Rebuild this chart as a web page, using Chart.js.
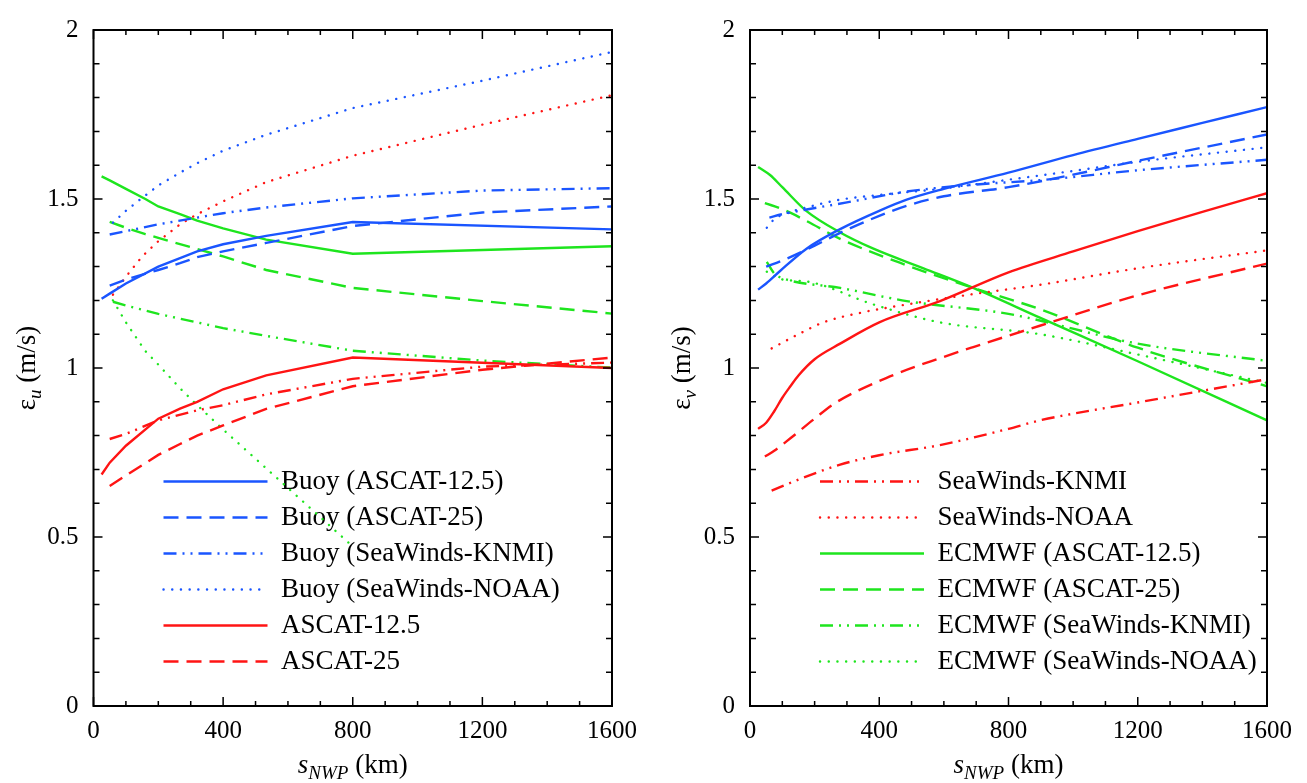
<!DOCTYPE html>
<html>
<head>
<meta charset="utf-8">
<title>NWP error vs. scale</title>
<script src="https://cdn.jsdelivr.net/npm/chart.js@4.4.1/dist/chart.umd.min.js"></script>
<style>
  body { margin: 0; background: #fff; }
  #wrap { position: relative; width: 1307px; height: 783px; }
  canvas { position: absolute; top: 0; }
  #cu { left: 0; }
  #cv { left: 655px; }
</style>
</head>
<body>
<div id="wrap">
  <canvas id="cu" width="655" height="783"></canvas>
  <canvas id="cv" width="652" height="783"></canvas>
</div>
<script>
// axis ticks
const xTicks = [0, 400, 800, 1200, 1600];
const yTicks = [0, 0.5, 1, 1.5, 2];
const xMinorStep = 100;
const yMinorStep = 0.1;

const seriesNames = [
  'Buoy (ASCAT-12.5)', 'Buoy (ASCAT-25)', 'Buoy (SeaWinds-KNMI)', 'Buoy (SeaWinds-NOAA)',
  'ASCAT-12.5', 'ASCAT-25', 'SeaWinds-KNMI', 'SeaWinds-NOAA',
  'ECMWF (ASCAT-12.5)', 'ECMWF (ASCAT-25)', 'ECMWF (SeaWinds-KNMI)', 'ECMWF (SeaWinds-NOAA)'
];

// eps_u, [s_NWP km, m/s]
const uBuoyA125 = [[25,1.205],[50,1.22],[100,1.25],[200,1.30],[267,1.325],[320,1.345],[400,1.366],[533,1.391],[800,1.432],[1600,1.41]];
const uBuoyA25  = [[50,1.244],[100,1.262],[200,1.29],[267,1.31],[320,1.328],[400,1.345],[533,1.37],[800,1.42],[1200,1.46],[1600,1.478]];
const uBuoySWK  = [[50,1.395],[100,1.405],[200,1.425],[320,1.445],[400,1.458],[533,1.475],[800,1.502],[1200,1.525],[1600,1.532]];
const uBuoySWN  = [[60,1.43],[100,1.465],[143,1.498],[200,1.54],[267,1.578],[320,1.606],[400,1.643],[533,1.69],[800,1.769],[1200,1.85],[1600,1.935]];
const uA125     = [[25,0.685],[50,0.72],[100,0.77],[200,0.85],[267,0.88],[320,0.90],[400,0.937],[533,0.978],[800,1.031],[1600,1.0]];
const uA25      = [[50,0.651],[100,0.682],[200,0.743],[267,0.775],[320,0.80],[400,0.83],[533,0.879],[800,0.946],[1200,0.995],[1600,1.031]];
const uSWK      = [[50,0.79],[100,0.805],[200,0.845],[320,0.875],[400,0.89],[533,0.922],[800,0.968],[1200,1.004],[1600,1.016]];
const uSWN      = [[60,1.217],[100,1.27],[150,1.33],[200,1.375],[267,1.425],[320,1.455],[400,1.493],[533,1.55],[800,1.628],[1200,1.72],[1600,1.807]];
const uEcA125   = [[25,1.567],[50,1.555],[100,1.53],[160,1.50],[200,1.478],[267,1.455],[320,1.436],[400,1.413],[533,1.38],[800,1.338],[1600,1.36]];
const uEcA25    = [[50,1.432],[100,1.415],[160,1.396],[200,1.385],[320,1.352],[400,1.33],[533,1.29],[800,1.237],[1200,1.198],[1600,1.161]];
const uEcSWK    = [[60,1.196],[100,1.185],[200,1.16],[320,1.135],[400,1.118],[533,1.095],[800,1.051],[1200,1.022],[1600,1.001]];
const uEcSWN    = [[60,1.20],[100,1.135],[160,1.05],[200,1.01],[267,0.94],[320,0.89],[400,0.818],[533,0.703],[800,0.472]];

// eps_v, [s_NWP km, m/s]
const vBuoyA125 = [[25,1.232],[50,1.25],[93,1.287],[175,1.353],[279,1.411],[400,1.465],[485,1.498],[600,1.53],[800,1.578],[1000,1.63],[1200,1.678],[1400,1.725],[1600,1.772]];
const vBuoyA25  = [[50,1.30],[100,1.318],[200,1.362],[279,1.40],[400,1.45],[485,1.48],[600,1.508],[800,1.535],[1000,1.572],[1200,1.613],[1400,1.652],[1600,1.691]];
const vBuoySWK  = [[60,1.445],[100,1.455],[175,1.469],[300,1.49],[485,1.522],[700,1.543],[900,1.556],[1200,1.585],[1600,1.616]];
const vBuoySWN  = [[52,1.415],[75,1.44],[102,1.454],[175,1.475],[279,1.498],[400,1.512],[588,1.53],[800,1.557],[1000,1.583],[1200,1.61],[1600,1.653]];
const vA125     = [[25,0.82],[50,0.838],[75,0.872],[100,0.912],[125,0.946],[150,0.978],[200,1.026],[279,1.072],[400,1.135],[588,1.198],[800,1.283],[1000,1.345],[1200,1.405],[1400,1.462],[1600,1.517]];
const vA25      = [[46,0.738],[75,0.755],[125,0.792],[200,0.85],[258,0.893],[433,0.975],[600,1.033],[691,1.062],[897,1.125],[1200,1.215],[1600,1.309]];
const vSWK      = [[67,0.637],[150,0.67],[279,0.714],[400,0.742],[588,0.772],[800,0.82],[897,0.845],[1200,0.898],[1600,0.967]];
const vSWN      = [[67,1.058],[150,1.10],[227,1.135],[350,1.165],[485,1.188],[700,1.22],[897,1.246],[1200,1.295],[1600,1.348]];
const vEcA125   = [[25,1.595],[62,1.571],[100,1.535],[175,1.464],[279,1.401],[382,1.353],[537,1.295],[691,1.237],[897,1.149],[1200,1.02],[1600,0.845]];
const vEcA25    = [[46,1.488],[100,1.47],[175,1.435],[279,1.382],[485,1.304],[691,1.237],[897,1.174],[1200,1.06],[1600,0.946]];
const vEcSWK    = [[52,1.314],[75,1.28],[100,1.266],[279,1.237],[485,1.198],[800,1.16],[1200,1.072],[1600,1.021]];
const vEcSWN    = [[52,1.285],[100,1.262],[175,1.256],[382,1.188],[588,1.135],[897,1.10],[1200,1.04],[1600,0.956]];

const seriesU = [uBuoyA125, uBuoyA25, uBuoySWK, uBuoySWN, uA125, uA25, uSWK, uSWN, uEcA125, uEcA25, uEcSWK, uEcSWN];
const seriesV = [vBuoyA125, vBuoyA25, vBuoySWK, vBuoySWN, vA125, vA25, vSWK, vSWN, vEcA125, vEcA25, vEcSWK, vEcSWN];

const SERIF = '"Liberation Serif", "Times New Roman", serif';
const BLUE = '#1a55ff', RED = '#ff1414', GREEN = '#1ee51e';
const SOLID = [], DASH = [15, 8], DASHDOT = [13, 6, 2, 6, 2, 6], DOT = [0.1, 8.6];

const lineColor = [BLUE, BLUE, BLUE, BLUE, RED, RED, RED, RED, GREEN, GREEN, GREEN, GREEN];
const lineDash = [SOLID, DASH, DASHDOT, DOT, SOLID, DASH, DASHDOT, DOT, SOLID, DASH, DASHDOT, DOT];

Chart.defaults.font.family = SERIF;
Chart.defaults.color = '#000';

function makeSets(series, smooth) {
  return series.map((pts, i) => ({
    label: seriesNames[i],
    data: pts.map(([x, y]) => ({ x, y })),
    borderColor: lineColor[i],
    backgroundColor: lineColor[i],
    borderDash: lineDash[i],
    borderCapStyle: lineDash[i] === DOT ? 'round' : 'butt',
    borderWidth: 2.4,
    pointRadius: 0,
    fill: false,
    tension: smooth ? 0.4 : 0,
    cubicInterpolationMode: smooth ? 'monotone' : 'default'
  }));
}

// legend samples take the dash/width of the line, not of its points
function lineLabels(chart) {
  return Chart.defaults.plugins.legend.labels.generateLabels(chart).map(item => {
    const ds = chart.data.datasets[item.datasetIndex];
    return Object.assign(item, {
      pointStyle: 'line',
      strokeStyle: ds.borderColor,
      lineWidth: ds.borderWidth,
      lineDash: ds.borderDash,
      lineCap: ds.borderCapStyle
    });
  });
}

// closed frame with inward major/minor ticks on all four sides
const framePlugin = {
  id: 'frame',
  afterDatasetsDraw(chart) {
    const { ctx, chartArea: a, scales: { x, y } } = chart;
    ctx.save();
    ctx.strokeStyle = '#000';
    ctx.lineWidth = 1.5;
    ctx.setLineDash([]);
    ctx.beginPath();
    for (let v = x.min; v <= x.max; v += xMinorStep) {
      const px = x.getPixelForValue(v);
      const len = xTicks.includes(v) ? 9 : 5;
      ctx.moveTo(px, a.bottom); ctx.lineTo(px, a.bottom - len);
      ctx.moveTo(px, a.top); ctx.lineTo(px, a.top + len);
    }
    for (let k = 0; k <= Math.round((y.max - y.min) / yMinorStep); k++) {
      const v = y.min + k * yMinorStep;
      const py = y.getPixelForValue(v);
      const len = yTicks.some(t => Math.abs(t - v) < 1e-6) ? 9 : 6;
      ctx.moveTo(a.left, py); ctx.lineTo(a.left + len, py);
      ctx.moveTo(a.right, py); ctx.lineTo(a.right - len, py);
    }
    ctx.stroke();
    ctx.lineWidth = 2;
    ctx.strokeRect(a.left, a.top, a.right - a.left, a.bottom - a.top);
    ctx.restore();
  }
};

// text made of runs with their own font and baseline shift
function drawRuns(ctx, runs, cx, baseY) {
  let w = 0;
  runs.forEach(r => { ctx.font = r.font; r.w = ctx.measureText(r.t).width; w += r.w; });
  let x = cx - w / 2;
  runs.forEach(r => { ctx.font = r.font; ctx.fillText(r.t, x, baseY + (r.dy || 0)); x += r.w; });
}

const titlePlugin = {
  id: 'axisTitles',
  afterDraw(chart, args, opts) {
    const { ctx, chartArea: a } = chart;
    ctx.save();
    ctx.fillStyle = '#000';
    ctx.textBaseline = 'alphabetic';
    ctx.textAlign = 'left';
    drawRuns(ctx, [
      { t: 's', font: 'italic 27px ' + SERIF },
      { t: 'NWP', font: 'italic 19px ' + SERIF, dy: 6 },
      { t: ' (km)', font: '27px ' + SERIF }
    ], (a.left + a.right) / 2, 773);
    ctx.translate(opts.yTitleX, (a.top + a.bottom) / 2);
    ctx.rotate(-Math.PI / 2);
    drawRuns(ctx, [
      { t: 'ε', font: '27px ' + SERIF },
      { t: opts.sub, font: 'italic 19px ' + SERIF, dy: 6 },
      { t: ' (m/s)', font: '27px ' + SERIF }
    ], 0, 0);
    ctx.restore();
  }
};

// put the legend inside the plot, lower left
const legendSpot = {
  id: 'legendSpot',
  afterLayout(chart, args, opts) {
    const lg = chart.legend;
    const a = chart.chartArea;
    lg.left = a.left + opts.dx;
    lg.right = a.right;
    lg.top = opts.top;
    lg.bottom = a.bottom;
  }
};

function makeChart(id, series, smooth, shown, yAxisWidth, padRight, sub, yTitleX) {
  return new Chart(document.getElementById(id), {
    type: 'line',
    data: { datasets: makeSets(series, smooth) },
    plugins: [framePlugin, titlePlugin, legendSpot],
    options: {
      responsive: false,
      animation: false,
      events: [],
      layout: { padding: { left: 0, right: padRight, top: 17, bottom: 0 } },
      scales: {
        x: {
          type: 'linear', min: 0, max: 1600,
          afterBuildTicks: s => { s.ticks = xTicks.map(v => ({ value: v })); },
          afterFit: s => { s.height = 77; },
          grid: { display: false, drawTicks: false },
          border: { display: false },
          ticks: { font: { size: 25 }, padding: 10, maxRotation: 0, callback: v => String(v) }
        },
        y: {
          type: 'linear', min: 0, max: 2,
          afterBuildTicks: s => { s.ticks = yTicks.map(v => ({ value: v })); },
          afterFit: s => { s.width = yAxisWidth; },
          grid: { display: false, drawTicks: false },
          border: { display: false },
          ticks: { font: { size: 25 }, padding: 15, callback: v => String(v) }
        }
      },
      plugins: {
        tooltip: { enabled: false },
        legend: {
          position: 'chartArea',
          align: 'start',
          labels: {
            filter: item => shown.includes(item.datasetIndex),
            generateLabels: lineLabels,
            usePointStyle: true,
            pointStyle: 'line',
            pointStyleWidth: 104,
            boxHeight: 27,
            padding: 9,
            font: { size: 27 },
            color: '#000'
          }
        },
        legendSpot: { dx: 61, top: 459 },
        axisTitles: { sub, yTitleX }
      }
    }
  });
}

makeChart('cu', seriesU, false, [0, 1, 2, 3, 4, 5], 93.5, 43, 'u', 35);
makeChart('cv', seriesV, true, [6, 7, 8, 9, 10, 11], 95, 40, 'v', 35);
</script>
</body>
</html>
